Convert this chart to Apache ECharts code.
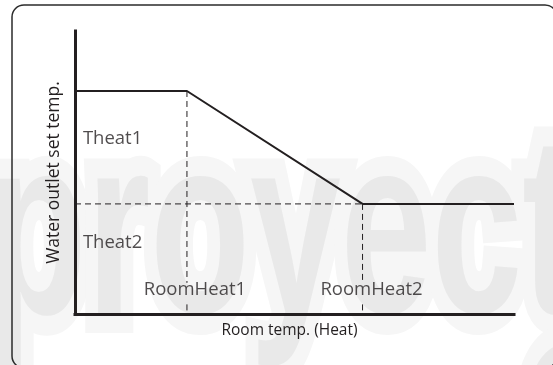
<!DOCTYPE html>
<html>
<head>
<meta charset="utf-8">
<script src="https://cdn.jsdelivr.net/npm/echarts@6/dist/echarts.min.js"></script>
<style>
  html, body { margin: 0; padding: 0; background: #fff; }
  #chart { width: 553px; height: 365px; }
</style>
</head>
<body>
<div id="chart"></div>
<script>
// Heating curve: outlet water set point versus room temperature
const roomTemp = [0, 25.5, 65.5, 100];        // curve break points (x)
const outletTemp = [78.8, 78.8, 38.9, 38.9];  // set point at each break point (y)

const roomHeat1 = roomTemp[1];
const roomHeat2 = roomTemp[2];
const theat1 = outletTemp[1];
const theat2 = outletTemp[2];

// labels drawn inside the plot
const levelLabels = ['Theat1', 'Theat2'];
const levelLabelY = [61.8, 25.1];
const pointLabels = ['RoomHeat1', 'RoomHeat2'];
const pointLabelY = 8.5;
const labelGap = [11, 3.4]; // dashed guides pause around the bottom labels

const axisTitleX = 'Room temp. (Heat)';
const axisTitleY = 'Water outlet set temp.';
const watermark = 'proyect';

const ink = '#231f20';
const font = 'Open Sans';

const chart = echarts.init(document.getElementById('chart'), null, { renderer: 'canvas' });

const curve = roomTemp.map((x, i) => [x, outletTemp[i]]);
const guides = [
  [roomHeat1, theat1], [roomHeat1, labelGap[0]], null,
  [roomHeat1, labelGap[1]], [roomHeat1, 0], null,
  [0, theat2], [roomHeat2, theat2], null,
  [roomHeat2, theat2], [roomHeat2, labelGap[0]], null,
  [roomHeat2, labelGap[1]], [roomHeat2, 0]
].map(p => p === null ? ['-', '-'] : p);

const labelData = [
  { value: [1.8, levelLabelY[0]], name: levelLabels[0], label: { align: 'left' } },
  { value: [1.8, levelLabelY[1]], name: levelLabels[1], label: { align: 'left' } },
  { value: [roomHeat1, pointLabelY], name: pointLabels[0], label: { offset: [8, 0] } },
  { value: [roomHeat2, pointLabelY], name: pointLabels[1], label: { offset: [9, 0] } }
];

const markStyle = {
  fontFamily: 'Liberation Sans', fontWeight: 'bold', fontSize: 255,
  fill: '#e9e9e9', stroke: '#f6f6f6', lineWidth: 40, lineJoin: 'round',
  textAlign: 'left', textVerticalAlign: 'middle'
};

chart.setOption({
  animation: false,
  backgroundColor: '#ffffff',
  grid: { left: 75, right: 39, top: 31, bottom: 51 },
  graphic: [
    {
      type: 'text', z: -10, x: -13, y: 243, scaleX: 0.64, silent: true,
      style: Object.assign({ text: watermark }, markStyle)
    },
    {
      type: 'text', z: -10, x: 521, y: 410, scaleX: 0.64, silent: true,
      style: Object.assign({ text: 'o' }, markStyle)
    },
    {
      type: 'rect', z: 100, silent: true,
      shape: { x: 12, y: 5, width: 545, height: 363, r: 12 },
      style: { fill: 'none', stroke: '#2b2b2b', lineWidth: 1.5 }
    }
  ],
  xAxis: {
    type: 'value', min: 0, max: 100,
    axisLine: { show: true, lineStyle: { color: ink, width: 3, cap: 'square' } },
    axisTick: { show: false }, axisLabel: { show: false }, splitLine: { show: false },
    name: axisTitleX, nameLocation: 'middle', nameGap: 9,
    nameTextStyle: { color: ink, fontFamily: font, fontSize: 15.5, verticalAlign: 'top', padding: [0, 10, 0, 0] }
  },
  yAxis: {
    type: 'value', min: 0, max: 100,
    axisLine: { show: true, lineStyle: { color: ink, width: 3, cap: 'square' } },
    axisTick: { show: false }, axisLabel: { show: false }, splitLine: { show: false },
    name: axisTitleY, nameLocation: 'middle', nameGap: 12,
    nameTextStyle: { color: ink, fontFamily: font, fontSize: 17.5 }
  },
  series: [
    {
      type: 'line', data: guides, symbol: 'none', connectNulls: false, z: 3,
      lineStyle: { color: ink, width: 1, type: [6, 4] }
    },
    {
      type: 'line', data: curve, symbol: 'none', z: 4,
      lineStyle: { color: ink, width: 2 }
    },
    {
      type: 'scatter', data: labelData, symbolSize: 0, z: 5,
      label: {
        show: true, position: 'inside', formatter: p => p.name,
        color: ink, fontFamily: font, fontSize: 18.5, align: 'center', verticalAlign: 'middle'
      }
    }
  ]
});
</script>
</body>
</html>
